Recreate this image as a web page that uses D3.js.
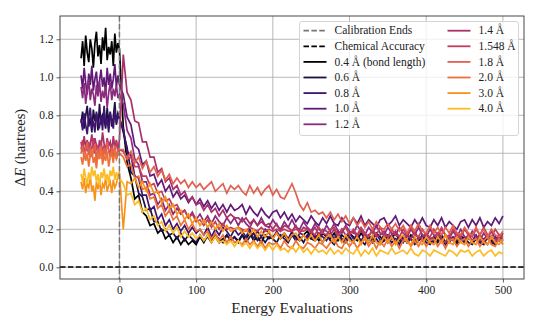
<!DOCTYPE html>
<html>
<head>
<meta charset="utf-8">
<script src="https://cdn.jsdelivr.net/npm/d3@7/dist/d3.min.js"></script>
<style>
  body { margin: 0; background: #fff; }
  svg { display: block; }
</style>
</head>
<body>
<div id="chart"></div>
<script>
// energy evaluations: every 2 steps during calibration (-50..0), every 5 after
const evals = d3.range(-50, 0, 2).concat(d3.range(0, 501, 5));

const labels = ["0.4 Å (bond length)", "0.6 Å", "0.8 Å", "1.0 Å", "1.2 Å",
  "1.4 Å", "1.548 Å", "1.8 Å", "2.0 Å", "3.0 Å", "4.0 Å"];

const colors = ["#000000", "#1c1044", "#3f1370", "#611a78", "#8a2b7e",
  "#a9306a", "#c13d5b", "#e1604f", "#ec7038", "#f8931a", "#fcbc25"];

const d04 = [1.10, 1.19, 1.06, 1.22, 1.13, 1.08, 1.20, 1.15, 1.05, 1.18, 1.24, 1.11, 1.17,
  1.07, 1.21, 1.14, 1.26, 1.09, 1.16, 1.12, 1.19, 1.06, 1.23, 1.13, 1.18, 1.15,
  0.74, 0.55, 0.47, 0.36, 0.38, 0.29, 0.27, 0.22, 0.23, 0.18,
  0.20, 0.15, 0.17, 0.13, 0.16, 0.12, 0.15, 0.12, 0.14, 0.12,
  0.16, 0.13, 0.17, 0.14, 0.16, 0.13, 0.15, 0.17, 0.14, 0.16,
  0.13, 0.17, 0.15, 0.18, 0.14, 0.16, 0.13, 0.17, 0.15, 0.16,
  0.18, 0.15, 0.17, 0.14, 0.18, 0.16, 0.14, 0.17, 0.19, 0.15,
  0.17, 0.14, 0.18, 0.16, 0.15, 0.18, 0.14, 0.17, 0.15, 0.18,
  0.16, 0.14, 0.18, 0.15, 0.17, 0.14, 0.18, 0.16, 0.14, 0.17,
  0.15, 0.18, 0.14, 0.16, 0.13, 0.17, 0.15, 0.14, 0.17, 0.15,
  0.13, 0.16, 0.14, 0.17, 0.13, 0.16, 0.15, 0.13, 0.17, 0.14,
  0.16, 0.13, 0.15, 0.17, 0.13, 0.16, 0.14, 0.13, 0.16, 0.15];

const d06 = [0.76, 0.82, 0.73, 0.80, 0.85, 0.74, 0.79, 0.71, 0.83, 0.77, 0.81, 0.72, 0.86,
  0.75, 0.80, 0.78, 0.73, 0.84, 0.76, 0.82, 0.74, 0.79, 0.87, 0.75, 0.81, 0.79,
  0.71, 0.63, 0.50, 0.48, 0.39, 0.37, 0.30, 0.31, 0.24, 0.24,
  0.19, 0.20, 0.17, 0.18, 0.15, 0.18, 0.14, 0.17, 0.15, 0.13,
  0.17, 0.14, 0.16, 0.13, 0.17, 0.15, 0.13, 0.17, 0.14, 0.16,
  0.14, 0.17, 0.13, 0.16, 0.18, 0.14, 0.16, 0.13, 0.16, 0.15,
  0.13, 0.17, 0.15, 0.13, 0.17, 0.14, 0.16, 0.13, 0.17, 0.15,
  0.14, 0.16, 0.13, 0.17, 0.14, 0.12, 0.16, 0.14, 0.13, 0.16,
  0.13, 0.17, 0.14, 0.12, 0.16, 0.13, 0.15, 0.12, 0.14, 0.16,
  0.13, 0.15, 0.12, 0.16, 0.13, 0.15, 0.12, 0.14, 0.16, 0.13,
  0.12, 0.15, 0.13, 0.16, 0.12, 0.14, 0.15, 0.12, 0.14, 0.16,
  0.13, 0.12, 0.15, 0.13, 0.12, 0.16, 0.13, 0.12, 0.15, 0.14];

const d08 = [0.78, 0.72, 0.81, 0.75, 0.70, 0.79, 0.84, 0.73, 0.77, 0.71, 0.82, 0.76, 0.74,
  0.80, 0.72, 0.85, 0.75, 0.78, 0.71, 0.81, 0.77, 0.73, 0.83, 0.76, 0.80, 0.78,
  0.73, 0.61, 0.59, 0.48, 0.47, 0.38, 0.38, 0.30, 0.32, 0.25,
  0.28, 0.22, 0.25, 0.20, 0.23, 0.19, 0.22, 0.18, 0.21, 0.18,
  0.20, 0.17, 0.21, 0.16, 0.20, 0.17, 0.21, 0.19, 0.16, 0.20,
  0.17, 0.19, 0.16, 0.20, 0.15, 0.19, 0.16, 0.20, 0.18, 0.15,
  0.19, 0.16, 0.18, 0.15, 0.19, 0.14, 0.18, 0.17, 0.15, 0.19,
  0.15, 0.18, 0.16, 0.14, 0.18, 0.15, 0.19, 0.15, 0.14, 0.18,
  0.15, 0.17, 0.14, 0.17, 0.13, 0.16, 0.18, 0.14, 0.17, 0.13,
  0.17, 0.14, 0.16, 0.13, 0.17, 0.15, 0.13, 0.16, 0.14, 0.17,
  0.15, 0.13, 0.16, 0.14, 0.17, 0.13, 0.16, 0.14, 0.15, 0.13,
  0.16, 0.14, 0.17, 0.13, 0.15, 0.16, 0.13, 0.16, 0.14, 0.15];

const d10 = [1.01, 0.94, 1.05, 0.97, 0.91, 1.02, 0.96, 1.06, 0.93, 0.99, 1.03, 0.92, 0.98,
  1.04, 0.95, 1.00, 0.91, 1.05, 0.96, 1.02, 0.94, 0.99, 1.07, 0.95, 1.01, 0.96,
  0.91, 0.79, 0.75, 0.64, 0.62, 0.54, 0.56, 0.48, 0.49, 0.43,
  0.46, 0.40, 0.43, 0.37, 0.40, 0.36, 0.38, 0.34, 0.37, 0.33,
  0.36, 0.32, 0.35, 0.31, 0.34, 0.30, 0.33, 0.29, 0.33, 0.30,
  0.31, 0.33, 0.28, 0.32, 0.29, 0.27, 0.31, 0.28, 0.26, 0.29,
  0.30, 0.26, 0.29, 0.25, 0.28, 0.24, 0.27, 0.25, 0.23, 0.27,
  0.24, 0.22, 0.26, 0.23, 0.27, 0.23, 0.22, 0.26, 0.23, 0.22,
  0.26, 0.23, 0.27, 0.22, 0.25, 0.23, 0.21, 0.25, 0.26, 0.22,
  0.24, 0.27, 0.22, 0.25, 0.23, 0.21, 0.25, 0.22, 0.26, 0.22,
  0.21, 0.25, 0.22, 0.26, 0.21, 0.24, 0.22, 0.20, 0.24, 0.25,
  0.21, 0.25, 0.22, 0.26, 0.21, 0.24, 0.22, 0.26, 0.23, 0.27];

const d12 = [0.95, 0.89, 0.97, 0.86, 0.93, 0.99, 0.88, 0.94, 0.91, 0.85, 0.96, 0.90, 0.98,
  0.87, 0.93, 0.89, 0.95, 0.84, 0.92, 0.97, 0.88, 0.94, 0.90, 0.96, 0.89, 0.91,
  0.86, 0.72, 0.68, 0.57, 0.54, 0.45, 0.45, 0.38, 0.39, 0.33,
  0.36, 0.30, 0.33, 0.28, 0.31, 0.28, 0.30, 0.26, 0.29, 0.25,
  0.28, 0.24, 0.27, 0.23, 0.27, 0.24, 0.22, 0.26, 0.23, 0.26,
  0.22, 0.26, 0.23, 0.21, 0.25, 0.22, 0.26, 0.22, 0.21, 0.25,
  0.22, 0.20, 0.24, 0.21, 0.25, 0.21, 0.20, 0.24, 0.21, 0.19,
  0.23, 0.20, 0.18, 0.22, 0.19, 0.23, 0.19, 0.18, 0.22, 0.19,
  0.18, 0.22, 0.19, 0.17, 0.21, 0.18, 0.22, 0.18, 0.17, 0.21,
  0.18, 0.17, 0.21, 0.18, 0.16, 0.20, 0.17, 0.21, 0.17, 0.16,
  0.20, 0.17, 0.16, 0.20, 0.17, 0.15, 0.19, 0.16, 0.20, 0.16,
  0.15, 0.19, 0.16, 0.14, 0.18, 0.15, 0.19, 0.15, 0.14, 0.18];

const d14 = [0.66, 0.61, 0.69, 0.63, 0.67, 0.60, 0.65, 0.70, 0.62, 0.68, 0.64, 0.59, 0.67,
  0.63, 0.71, 0.65, 0.61, 0.68, 0.64, 0.66, 0.60, 0.69, 0.63, 0.67, 0.62, 0.67,
  1.12, 0.92, 0.88, 0.77, 0.76, 0.66, 0.66, 0.58, 0.58, 0.50,
  0.52, 0.45, 0.47, 0.41, 0.43, 0.38, 0.40, 0.35, 0.37, 0.33,
  0.34, 0.30, 0.33, 0.29, 0.31, 0.27, 0.30, 0.26, 0.28, 0.26,
  0.26, 0.24, 0.26, 0.23, 0.25, 0.22, 0.24, 0.22, 0.23, 0.20,
  0.23, 0.19, 0.22, 0.21, 0.19, 0.22, 0.18, 0.21, 0.20, 0.18,
  0.21, 0.17, 0.20, 0.19, 0.17, 0.20, 0.16, 0.20, 0.17, 0.18,
  0.19, 0.16, 0.20, 0.16, 0.17, 0.19, 0.16, 0.17, 0.19, 0.16,
  0.17, 0.19, 0.16, 0.14, 0.18, 0.15, 0.19, 0.15, 0.16, 0.18,
  0.15, 0.16, 0.18, 0.15, 0.13, 0.17, 0.14, 0.18, 0.14, 0.15,
  0.17, 0.14, 0.15, 0.17, 0.14, 0.12, 0.16, 0.13, 0.17, 0.14];

const d1548 = [0.62, 0.67, 0.59, 0.64, 0.61, 0.66, 0.58, 0.63, 0.68, 0.60, 0.65, 0.62, 0.57,
  0.66, 0.61, 0.64, 0.59, 0.67, 0.62, 0.60, 0.65, 0.58, 0.63, 0.66, 0.61, 0.62,
  0.61, 0.57, 0.58, 0.53, 0.53, 0.48, 0.48, 0.43, 0.44, 0.39,
  0.40, 0.35, 0.36, 0.32, 0.33, 0.29, 0.30, 0.26, 0.28, 0.24,
  0.25, 0.22, 0.25, 0.21, 0.24, 0.20, 0.23, 0.20, 0.21, 0.20,
  0.21, 0.20, 0.19, 0.21, 0.20, 0.19, 0.21, 0.19, 0.20, 0.19,
  0.20, 0.19, 0.20, 0.19, 0.19, 0.20, 0.19, 0.19, 0.20, 0.19,
  0.17, 0.21, 0.18, 0.17, 0.20, 0.21, 0.17, 0.20, 0.21, 0.17,
  0.20, 0.17, 0.21, 0.18, 0.16, 0.20, 0.17, 0.21, 0.17, 0.16,
  0.20, 0.17, 0.16, 0.20, 0.17, 0.21, 0.17, 0.16, 0.20, 0.17,
  0.16, 0.20, 0.17, 0.21, 0.17, 0.16, 0.20, 0.17, 0.16, 0.20,
  0.17, 0.16, 0.20, 0.17, 0.21, 0.17, 0.16, 0.20, 0.17, 0.16];

const d18 = [0.60, 0.64, 0.57, 0.62, 0.66, 0.59, 0.63, 0.58, 0.61, 0.65, 0.56, 0.62, 0.60,
  0.64, 0.57, 0.63, 0.59, 0.66, 0.61, 0.58, 0.63, 0.60, 0.64, 0.57, 0.62, 0.62,
  0.62, 0.57, 0.61, 0.55, 0.58, 0.52, 0.56, 0.50, 0.53, 0.48,
  0.51, 0.46, 0.49, 0.44, 0.47, 0.44, 0.46, 0.42, 0.45, 0.42,
  0.44, 0.41, 0.43, 0.45, 0.40, 0.42, 0.44, 0.39, 0.43, 0.41,
  0.43, 0.40, 0.38, 0.43, 0.39, 0.42, 0.38, 0.41, 0.43, 0.38,
  0.41, 0.37, 0.36, 0.40, 0.44, 0.39, 0.33, 0.30, 0.34, 0.29,
  0.30, 0.28, 0.29, 0.26, 0.29, 0.25, 0.28, 0.24, 0.27, 0.23,
  0.26, 0.22, 0.25, 0.21, 0.24, 0.20, 0.24, 0.21, 0.20, 0.23,
  0.20, 0.23, 0.19, 0.22, 0.18, 0.22, 0.19, 0.23, 0.19, 0.18,
  0.22, 0.18, 0.21, 0.17, 0.21, 0.18, 0.22, 0.18, 0.17, 0.21,
  0.18, 0.17, 0.21, 0.17, 0.20, 0.16, 0.20, 0.17, 0.16, 0.19];

const d20 = [0.58, 0.54, 0.61, 0.56, 0.60, 0.53, 0.59, 0.62, 0.55, 0.58, 0.52, 0.60, 0.57,
  0.63, 0.54, 0.59, 0.56, 0.61, 0.53, 0.58, 0.60, 0.55, 0.62, 0.57, 0.59, 0.60,
  0.58, 0.53, 0.54, 0.47, 0.48, 0.41, 0.42, 0.36, 0.37, 0.31,
  0.33, 0.27, 0.30, 0.25, 0.27, 0.22, 0.25, 0.20, 0.23, 0.19,
  0.20, 0.17, 0.19, 0.15, 0.18, 0.14, 0.17, 0.13, 0.16, 0.13,
  0.14, 0.12, 0.15, 0.12, 0.14, 0.11, 0.14, 0.10, 0.13, 0.12,
  0.13, 0.10, 0.14, 0.11, 0.10, 0.14, 0.11, 0.10, 0.13, 0.12,
  0.10, 0.13, 0.12, 0.10, 0.13, 0.15, 0.11, 0.10, 0.14, 0.11,
  0.14, 0.10, 0.13, 0.15, 0.11, 0.14, 0.10, 0.14, 0.11, 0.15,
  0.11, 0.14, 0.10, 0.14, 0.15, 0.11, 0.14, 0.11, 0.15, 0.11,
  0.14, 0.15, 0.11, 0.14, 0.10, 0.14, 0.15, 0.11, 0.14, 0.15,
  0.11, 0.14, 0.15, 0.11, 0.14, 0.16, 0.12, 0.11, 0.15, 0.12];

const d30 = [0.45, 0.41, 0.47, 0.39, 0.44, 0.42, 0.48, 0.40, 0.43, 0.35, 0.45, 0.41, 0.46,
  0.38, 0.44, 0.42, 0.47, 0.40, 0.43, 0.45, 0.39, 0.46, 0.42, 0.44, 0.48, 0.50,
  0.20, 0.45, 0.44, 0.47, 0.42, 0.45, 0.40, 0.44, 0.39, 0.40,
  0.34, 0.37, 0.31, 0.33, 0.28, 0.30, 0.25, 0.28, 0.23, 0.26,
  0.22, 0.25, 0.21, 0.24, 0.20, 0.23, 0.19, 0.22, 0.19, 0.20,
  0.21, 0.18, 0.20, 0.17, 0.20, 0.16, 0.19, 0.16, 0.19, 0.15,
  0.18, 0.15, 0.18, 0.14, 0.17, 0.18, 0.14, 0.17, 0.14, 0.17,
  0.14, 0.17, 0.13, 0.16, 0.17, 0.13, 0.16, 0.13, 0.17, 0.14,
  0.13, 0.16, 0.12, 0.16, 0.13, 0.17, 0.13, 0.12, 0.16, 0.13,
  0.16, 0.12, 0.15, 0.17, 0.13, 0.12, 0.16, 0.13, 0.12, 0.16,
  0.13, 0.12, 0.16, 0.13, 0.17, 0.13, 0.12, 0.16, 0.13, 0.12,
  0.16, 0.13, 0.12, 0.16, 0.13, 0.12, 0.16, 0.13, 0.12, 0.15];

const d40 = [0.49, 0.45, 0.52, 0.47, 0.44, 0.50, 0.46, 0.53, 0.48, 0.51, 0.45, 0.49, 0.43,
  0.50, 0.47, 0.52, 0.46, 0.49, 0.44, 0.51, 0.48, 0.53, 0.46, 0.50, 0.47, 0.47,
  0.44, 0.38, 0.39, 0.33, 0.35, 0.29, 0.31, 0.25, 0.27, 0.22,
  0.24, 0.19, 0.22, 0.18, 0.21, 0.16, 0.19, 0.16, 0.18, 0.15,
  0.17, 0.14, 0.17, 0.13, 0.16, 0.13, 0.14, 0.12, 0.14, 0.11,
  0.14, 0.11, 0.13, 0.10, 0.13, 0.10, 0.12, 0.09, 0.12, 0.09,
  0.12, 0.09, 0.10, 0.08, 0.11, 0.08, 0.11, 0.08, 0.10, 0.07,
  0.10, 0.08, 0.09, 0.07, 0.10, 0.07, 0.09, 0.07, 0.10, 0.08,
  0.07, 0.10, 0.06, 0.09, 0.07, 0.10, 0.06, 0.09, 0.08, 0.07,
  0.10, 0.07, 0.08, 0.09, 0.07, 0.10, 0.07, 0.06, 0.09, 0.08,
  0.06, 0.09, 0.08, 0.07, 0.06, 0.09, 0.08, 0.06, 0.09, 0.08,
  0.09, 0.06, 0.08, 0.09, 0.06, 0.08, 0.09, 0.06, 0.08, 0.07];

const series = [d04, d06, d08, d10, d12, d14, d1548, d18, d20, d30, d40];

const xTicks = [0, 100, 200, 300, 400, 500];
const yTicks = [0.0, 0.2, 0.4, 0.6, 0.8, 1.0, 1.2];
const calibrationEnd = 0;
const chemicalAccuracy = 0.0016;

const FONT = '"Liberation Serif", "DejaVu Serif", "Times New Roman", serif';

const W = 540, H = 333;
const margin = { left: 60, top: 16, right: 16, bottom: 54 };
const iw = W - margin.left - margin.right;
const ih = H - margin.top - margin.bottom;

const svg = d3.select("#chart").append("svg")
  .attr("width", W)
  .attr("height", H)
  .style("font-family", FONT);

const x = d3.scaleLinear().domain([-77.5, 527.5]).range([0, iw]);
const y = d3.scaleLinear().domain([-0.0616, 1.3226]).range([ih, 0]);

const g = svg.append("g").attr("transform", `translate(${margin.left},${margin.top})`);

g.append("defs").append("clipPath").attr("id", "clip")
  .append("rect").attr("width", iw).attr("height", ih);

// grid
g.append("g").selectAll("line").data(xTicks).join("line")
  .attr("x1", d => x(d)).attr("x2", d => x(d))
  .attr("y1", 0).attr("y2", ih)
  .attr("stroke", "#b0b0b0").attr("stroke-width", 0.9);
g.append("g").selectAll("line").data(yTicks).join("line")
  .attr("x1", 0).attr("x2", iw)
  .attr("y1", d => y(d)).attr("y2", d => y(d))
  .attr("stroke", "#b0b0b0").attr("stroke-width", 0.9);

const line = d3.line()
  .x((d, i) => x(evals[i]))
  .y(d => y(d));

g.append("g").attr("clip-path", "url(#clip)")
  .selectAll("path").data(series).join("path")
  .attr("d", line)
  .attr("fill", "none")
  .attr("stroke", (d, i) => colors[i])
  .attr("stroke-width", 1.7)
  .attr("stroke-linejoin", "miter");

// reference lines
g.append("line")
  .attr("x1", x(calibrationEnd)).attr("x2", x(calibrationEnd))
  .attr("y1", 0).attr("y2", ih)
  .attr("stroke", "#777").attr("stroke-width", 1.5)
  .attr("stroke-dasharray", "5.5,2.4");
g.append("line")
  .attr("x1", 0).attr("x2", iw)
  .attr("y1", y(chemicalAccuracy)).attr("y2", y(chemicalAccuracy))
  .attr("stroke", "#000").attr("stroke-width", 1.5)
  .attr("stroke-dasharray", "5.5,2.4");

// axes
const xAxis = g.append("g").attr("transform", `translate(0,${ih})`)
  .call(d3.axisBottom(x).tickValues(xTicks).tickSize(3.5).tickPadding(3).tickFormat(d3.format("d")));
const yAxis = g.append("g")
  .call(d3.axisLeft(y).tickValues(yTicks).tickSize(3.5).tickPadding(3).tickFormat(d3.format(".1f")));
[xAxis, yAxis].forEach(a => {
  a.attr("font-family", null);
  a.select(".domain").remove();
  a.selectAll("line").attr("stroke", "#333").attr("stroke-width", 0.8);
  a.selectAll("text").attr("font-size", 11.5).attr("fill", "#222")
    .style("font-family", FONT);
});

g.append("rect")
  .attr("width", iw).attr("height", ih)
  .attr("fill", "none").attr("stroke", "#333").attr("stroke-width", 0.9);

// axis labels
svg.append("text")
  .attr("x", margin.left + iw / 2).attr("y", 313)
  .attr("text-anchor", "middle").attr("font-size", 15.5).attr("fill", "#222")
  .style("font-family", FONT)
  .text("Energy Evaluations");

const yl = svg.append("text")
  .attr("transform", `translate(25,${margin.top + ih / 2}) rotate(-90)`)
  .attr("text-anchor", "middle").attr("font-size", 14.5).attr("fill", "#222")
  .style("font-family", FONT);
yl.append("tspan").text("Δ");
yl.append("tspan").attr("font-style", "italic").text("E");
yl.append("tspan").text(" (hartrees)");

// legend
const legendItems = [
  { label: "Calibration Ends", color: "#777", dash: true },
  { label: "Chemical Accuracy", color: "#000", dash: true }
].concat(labels.map((l, i) => ({ label: l, color: colors[i], dash: false })));

const lg = svg.append("g");
lg.append("rect")
  .attr("x", 299.5).attr("y", 21.5).attr("width", 219).attr("height", 114)
  .attr("rx", 2.5)
  .attr("fill", "#fff").attr("fill-opacity", 0.8)
  .attr("stroke", "#d0d0d0").attr("stroke-width", 0.9);

const rowH = 15.6;
legendItems.forEach((it, i) => {
  const col = i < 7 ? 0 : 1;
  const row = i < 7 ? i : i - 7;
  const hx = col === 0 ? 303.5 : 447.5;
  const cy = 30.7 + row * rowH;
  lg.append("line")
    .attr("x1", hx).attr("x2", hx + 23)
    .attr("y1", cy).attr("y2", cy)
    .attr("stroke", it.color).attr("stroke-width", 1.8)
    .attr("stroke-dasharray", it.dash ? "5.5,2.4" : null);
  lg.append("text")
    .attr("x", hx + 31).attr("y", cy + 3.7)
    .attr("font-size", 11.5).attr("fill", "#222")
    .style("font-family", FONT)
    .text(it.label);
});
</script>
</body>
</html>
